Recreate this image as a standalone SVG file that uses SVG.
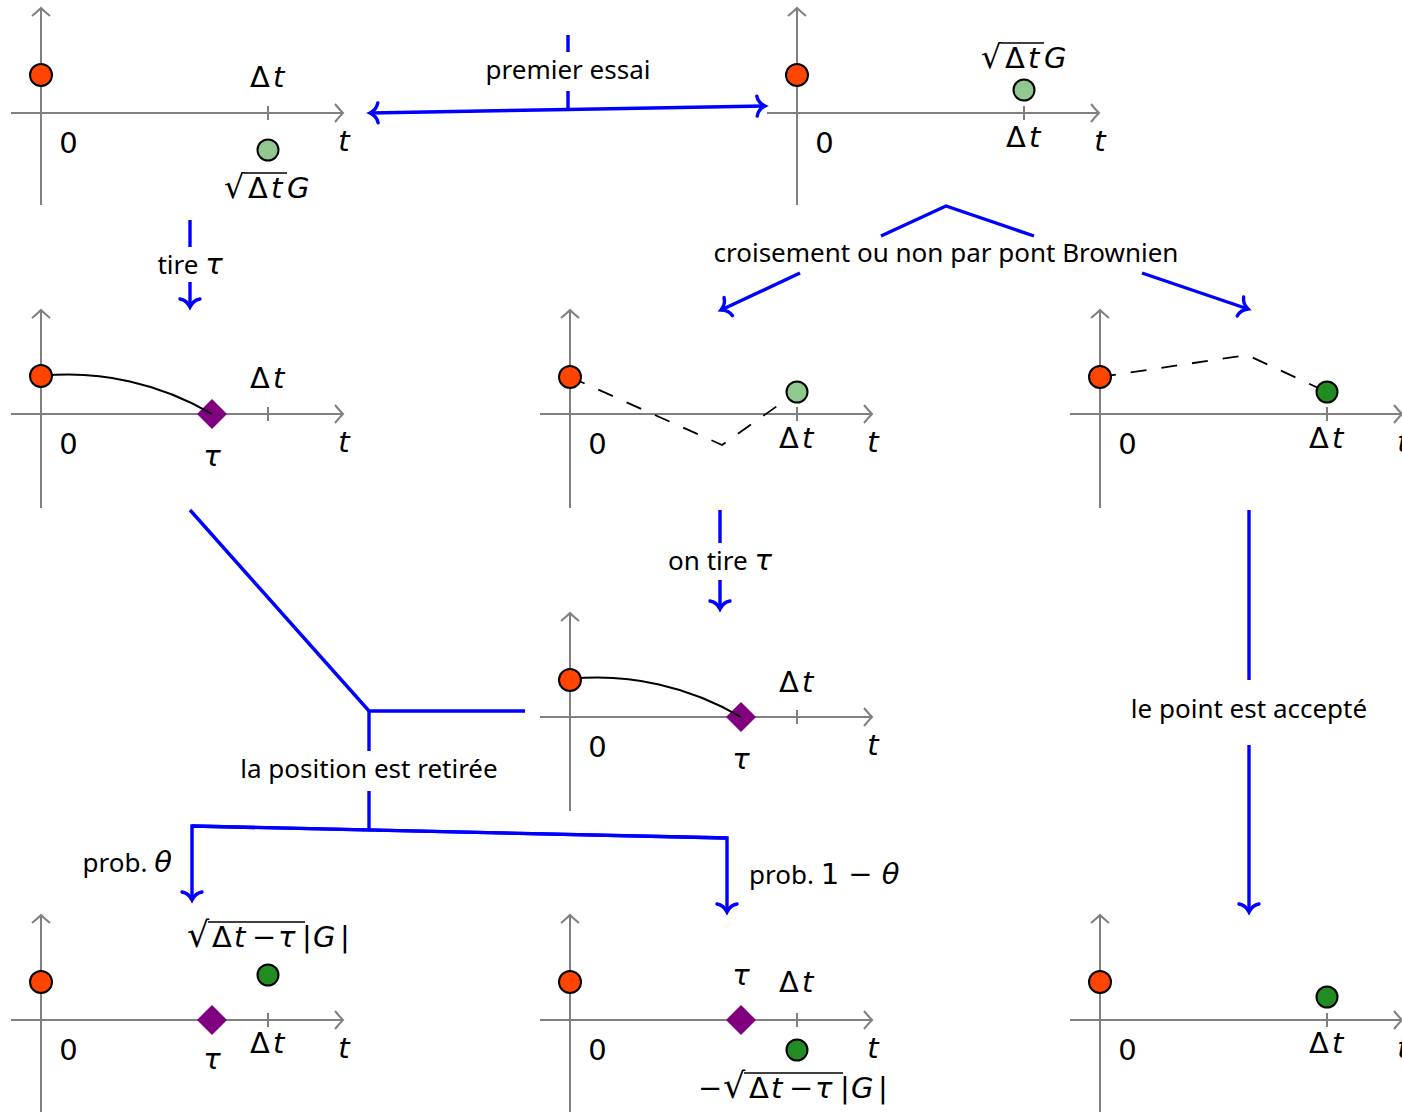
<svg xmlns="http://www.w3.org/2000/svg" width="1402" height="1112" viewBox="0 0 1402 1112">
<defs>
<marker id="ax" markerUnits="userSpaceOnUse" markerWidth="24" markerHeight="24" viewBox="-12 -12 24 24" refX="0" refY="0" orient="auto">
<path d="M-8,-9 Q-3,-3 0,0 Q-3,3 -8,9" fill="none" stroke="#808080" stroke-width="2"/>
</marker>
<marker id="bl" markerUnits="userSpaceOnUse" markerWidth="28" markerHeight="28" viewBox="-14 -14 28 28" refX="0" refY="0" orient="auto">
<path d="M-8,-10 C-7,-4 -2,-1 0,0 C-2,1 -7,4 -8,10" fill="none" stroke="#0000FF" stroke-width="3.4" stroke-linecap="round"/>
</marker>
</defs>
<style>
.axis{stroke:#808080;stroke-width:2;fill:none}
.ax{marker-end:url(#ax)}
.red{fill:#FF4500;stroke:#000;stroke-width:2}
.lg{fill:#90C890;stroke:#000;stroke-width:2}
.dg{fill:#228B22;stroke:#000;stroke-width:2}
.dia{fill:#800080}
.path{fill:none;stroke:#000;stroke-width:2}
.dash{fill:none;stroke:#000;stroke-width:1.8;stroke-dasharray:16 15}
.m{font-family:"DejaVu Sans",sans-serif;font-size:29px;fill:#000}
.i{font-style:italic}
.r{font-size:32px}
.rb{font-size:35px}
.lbl{font-family:"Noto Sans","Liberation Sans",sans-serif;font-size:26px;fill:#000}
.c{stroke:#0000FF;stroke-width:3.4;fill:none}
.arr{marker-end:url(#bl)}
.ov{stroke:#000;stroke-width:1.6}
</style>

<g id="plotA" transform="translate(41,113)">
<line class="axis ax" x1="0" y1="92" x2="0" y2="-105"/>
<line class="axis ax" x1="-30" y1="0" x2="302" y2="0"/>
<line class="axis" x1="227" y1="-7" x2="227" y2="7"/>
<circle class="red" cx="0" cy="-38" r="11"/>
<circle class="lg" cx="227" cy="37" r="10.5"/>
<text class="m" x="27.5" y="40" text-anchor="middle">0</text>
<text class="m i" x="303" y="38" text-anchor="middle">t</text>
<text class="m" y="-26"><tspan x="209">Δ</tspan><tspan x="232" class="i">t</tspan></text>
<text class="m" y="85"><tspan x="183" class="r">√</tspan><tspan x="207">Δ</tspan><tspan x="230" class="i">t</tspan><tspan x="246" class="i">G</tspan></text>
<line class="ov" x1="203" y1="60" x2="246" y2="60"/>
</g>

<g id="plotB" transform="translate(797,113)">
<line class="axis ax" x1="0" y1="92" x2="0" y2="-105"/>
<line class="axis ax" x1="-30" y1="0" x2="302" y2="0"/>
<line class="axis" x1="227" y1="-7" x2="227" y2="7"/>
<circle class="red" cx="0" cy="-38" r="11"/>
<circle class="lg" cx="227" cy="-23" r="10.5"/>
<text class="m" x="27.5" y="40" text-anchor="middle">0</text>
<text class="m i" x="303" y="38" text-anchor="middle">t</text>
<text class="m" y="34"><tspan x="209">Δ</tspan><tspan x="232" class="i">t</tspan></text>
<text class="m" y="-45"><tspan x="184" class="r">√</tspan><tspan x="208">Δ</tspan><tspan x="231" class="i">t</tspan><tspan x="247" class="i">G</tspan></text>
<line class="ov" x1="204" y1="-70" x2="247" y2="-70"/>
</g>

<g id="plotC" transform="translate(41,414)">
<line class="axis ax" x1="0" y1="94" x2="0" y2="-104"/>
<line class="axis ax" x1="-30" y1="0" x2="302" y2="0"/>
<line class="axis" x1="227" y1="-7" x2="227" y2="7"/>
<polygon class="dia" points="171,-15 186,0 171,15 156,0"/>
<path class="path" d="M0,-38 C60,-44 120,-30 171,0"/>
<circle class="red" cx="0" cy="-38" r="11"/>
<text class="m" x="27.5" y="40" text-anchor="middle">0</text>
<text class="m i" x="303" y="38" text-anchor="middle">t</text>
<text class="m" y="-26"><tspan x="209">Δ</tspan><tspan x="232" class="i">t</tspan></text>
<text class="m i" x="171" y="52" text-anchor="middle">τ</text>
</g>

<g id="plotD" transform="translate(570,414)">
<line class="axis ax" x1="0" y1="94" x2="0" y2="-104"/>
<line class="axis ax" x1="-30" y1="0" x2="302" y2="0"/>
<line class="axis" x1="227" y1="-7" x2="227" y2="7"/>
<path class="dash" d="M0,-37 L152,31 L227,-22"/>
<circle class="red" cx="0" cy="-37" r="11"/>
<circle class="lg" cx="227" cy="-22" r="10.5"/>
<text class="m" x="27.5" y="40" text-anchor="middle">0</text>
<text class="m i" x="303" y="38" text-anchor="middle">t</text>
<text class="m" y="34"><tspan x="209">Δ</tspan><tspan x="232" class="i">t</tspan></text>
</g>

<g id="plotE" transform="translate(1100,414)">
<line class="axis ax" x1="0" y1="94" x2="0" y2="-104"/>
<line class="axis ax" x1="-30" y1="0" x2="302" y2="0"/>
<line class="axis" x1="227" y1="-7" x2="227" y2="7"/>
<path class="dash" d="M0,-37 L147,-59 L227,-22"/>
<circle class="red" cx="0" cy="-37" r="11"/>
<circle class="dg" cx="227" cy="-22" r="10.5"/>
<text class="m" x="27.5" y="40" text-anchor="middle">0</text>
<text class="m i" x="303" y="38" text-anchor="middle">t</text>
<text class="m" y="34"><tspan x="209">Δ</tspan><tspan x="232" class="i">t</tspan></text>
</g>

<g id="plotF" transform="translate(570,717)">
<line class="axis ax" x1="0" y1="94" x2="0" y2="-104"/>
<line class="axis ax" x1="-30" y1="0" x2="302" y2="0"/>
<line class="axis" x1="227" y1="-7" x2="227" y2="7"/>
<polygon class="dia" points="171,-15 186,0 171,15 156,0"/>
<path class="path" d="M0,-38 C60,-44 120,-30 171,0"/>
<circle class="red" cx="0" cy="-37" r="11"/>
<text class="m" x="27.5" y="40" text-anchor="middle">0</text>
<text class="m i" x="303" y="38" text-anchor="middle">t</text>
<text class="m" y="-25"><tspan x="209">Δ</tspan><tspan x="232" class="i">t</tspan></text>
<text class="m i" x="171" y="52" text-anchor="middle">τ</text>
</g>

<g id="plotG" transform="translate(41,1020)">
<line class="axis ax" x1="0" y1="94" x2="0" y2="-105"/>
<line class="axis ax" x1="-30" y1="0" x2="302" y2="0"/>
<line class="axis" x1="227" y1="-7" x2="227" y2="7"/>
<polygon class="dia" points="171,-15 186,0 171,15 156,0"/>
<circle class="red" cx="0" cy="-38" r="11"/>
<circle class="dg" cx="227" cy="-45" r="10.5"/>
<text class="m" x="27.5" y="40" text-anchor="middle">0</text>
<text class="m i" x="303" y="38" text-anchor="middle">t</text>
<text class="m" y="33"><tspan x="209">Δ</tspan><tspan x="232" class="i">t</tspan></text>
<text class="m i" x="171" y="49" text-anchor="middle">τ</text>
<text class="m" y="-73"><tspan x="146" class="rb">√</tspan><tspan x="171">Δ</tspan><tspan x="193" class="i">t</tspan><tspan x="211">−</tspan><tspan x="237" class="i">τ</tspan><tspan x="261">|</tspan><tspan x="272" class="i">G</tspan><tspan x="299">|</tspan></text>
<line class="ov" x1="167" y1="-98" x2="264" y2="-98"/>
</g>

<g id="plotH" transform="translate(570,1020)">
<line class="axis ax" x1="0" y1="94" x2="0" y2="-105"/>
<line class="axis ax" x1="-30" y1="0" x2="302" y2="0"/>
<line class="axis" x1="227" y1="-7" x2="227" y2="7"/>
<polygon class="dia" points="171,-15 186,0 171,15 156,0"/>
<circle class="red" cx="0" cy="-38" r="11"/>
<circle class="dg" cx="227" cy="30" r="10.5"/>
<text class="m" x="27.5" y="40" text-anchor="middle">0</text>
<text class="m i" x="303" y="38" text-anchor="middle">t</text>
<text class="m" y="-28"><tspan x="209">Δ</tspan><tspan x="232" class="i">t</tspan></text>
<text class="m i" x="171" y="-35" text-anchor="middle">τ</text>
<text class="m" y="78"><tspan x="128">−</tspan><tspan x="153" class="rb">√</tspan><tspan x="179">Δ</tspan><tspan x="201" class="i">t</tspan><tspan x="219">−</tspan><tspan x="245" class="i">τ</tspan><tspan x="270">|</tspan><tspan x="281" class="i">G</tspan><tspan x="308">|</tspan></text>
<line class="ov" x1="174" y1="53" x2="273" y2="53"/>
</g>

<g id="plotI" transform="translate(1100,1020)">
<line class="axis ax" x1="0" y1="94" x2="0" y2="-105"/>
<line class="axis ax" x1="-30" y1="0" x2="302" y2="0"/>
<line class="axis" x1="227" y1="-7" x2="227" y2="7"/>
<circle class="red" cx="0" cy="-38" r="11"/>
<circle class="dg" cx="227" cy="-23" r="10.5"/>
<text class="m" x="27.5" y="40" text-anchor="middle">0</text>
<text class="m i" x="303" y="38" text-anchor="middle">t</text>
<text class="m" y="33"><tspan x="209">Δ</tspan><tspan x="232" class="i">t</tspan></text>
</g>

<g id="connectors">
<line class="c arr" x1="568" y1="109.5" x2="370" y2="113"/>
<line class="c arr" x1="568" y1="109.5" x2="765" y2="106"/>
<line class="c" x1="568" y1="35" x2="568" y2="52"/>
<line class="c" x1="568" y1="91" x2="568" y2="109.5"/>

<line class="c" x1="190" y1="220" x2="190" y2="247"/>
<line class="c arr" x1="190" y1="282" x2="190" y2="307"/>

<polyline class="c" points="881,236 946,206 1034,236"/>
<line class="c arr" x1="800" y1="273" x2="721" y2="310"/>
<line class="c arr" x1="1142" y1="273" x2="1248" y2="309"/>

<line class="c" x1="720" y1="510" x2="720" y2="543"/>
<line class="c arr" x1="720" y1="580" x2="720" y2="609"/>

<polyline class="c" points="190,510 369,711 525,711"/>
<line class="c" x1="369" y1="711" x2="369" y2="751"/>
<line class="c" x1="369" y1="791" x2="369" y2="830"/>
<polyline class="c arr" points="727,838 192,826 192,900"/>
<polyline class="c arr" points="192,826 727,838 727,912"/>

<line class="c" x1="1249" y1="510" x2="1249" y2="680"/>
<line class="c arr" x1="1249" y1="745" x2="1249" y2="912"/>
</g>

<g id="labels">
<text class="lbl" x="568" y="79" text-anchor="middle">premier essai</text>
<text class="lbl" x="190" y="274" text-anchor="middle">tire <tspan class="m i">τ</tspan></text>
<text class="lbl" x="946" y="262" text-anchor="middle">croisement ou non par pont Brownien</text>
<text class="lbl" x="720" y="570" text-anchor="middle">on tire <tspan class="m i">τ</tspan></text>
<text class="lbl" x="369" y="778" text-anchor="middle">la position est retirée</text>
<text class="lbl" x="1249" y="718" text-anchor="middle">le point est accepté</text>
<text class="lbl" x="172" y="872" text-anchor="end">prob. <tspan class="m i">θ</tspan></text>
<text class="lbl" x="749" y="884">prob. <tspan class="m">1 − </tspan><tspan class="m i">θ</tspan></text>
</g>
</svg>
